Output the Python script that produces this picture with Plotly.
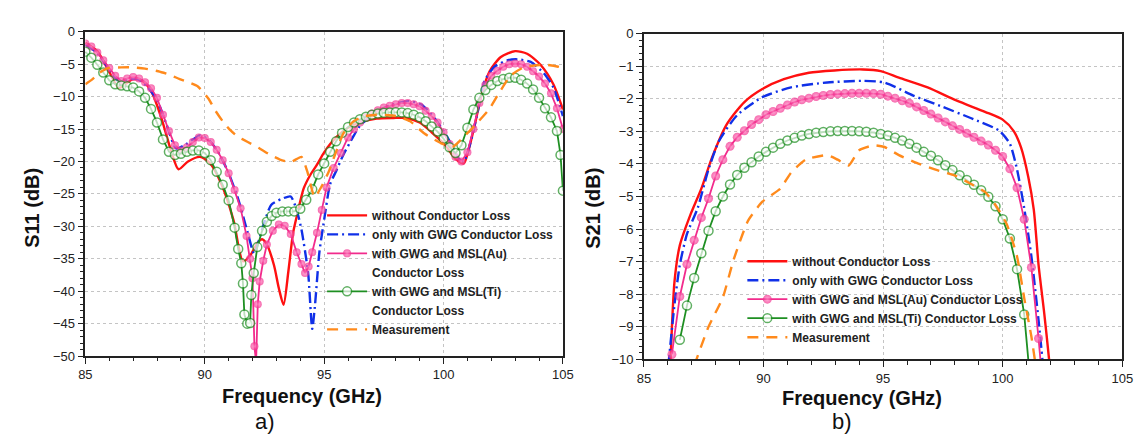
import plotly.graph_objects as go

W, H = 1142, 434

# ---------------- S11 data (left panel) ----------------
s11_red_f = [85.0, 85.5, 86.0, 86.4, 86.7, 87.0, 87.4, 87.8, 88.2, 88.6, 88.9, 89.3, 89.8, 90.2, 90.7,
             91.2, 91.6, 91.9, 92.2, 92.4, 92.6, 92.9, 93.1, 93.3, 93.5, 93.7, 93.87, 94.14, 94.4, 94.7,
             95.0, 95.5, 96.0, 96.5, 97.2, 97.9, 98.4, 99.0, 99.5, 100.07, 100.5, 100.85, 101.03, 101.3,
             101.6, 101.93, 102.4, 103.0, 103.5, 104.06, 104.6, 105.0]
s11_red_v = [-1.7, -3.0, -6.2, -8.7, -8.0, -7.3, -7.6, -9.5, -13.5, -18.5, -21.2, -20.0, -19.3, -20.2, -23.5,
             -29.0, -35.4, -34.5, -32.6, -32.0, -32.8, -36.0, -39.5, -42.1, -37.0, -31.0, -28.2, -24.2, -22.2, -20.5,
             -18.6, -16.3, -14.8, -14.0, -13.4, -13.3, -13.3, -14.0, -15.5, -17.5, -19.6, -20.3, -18.5, -14.5,
             -9.6, -6.1, -3.9, -3.0, -3.4, -5.1, -8.1, -12.0]

s11_blue_f = [85.0, 85.5, 86.0, 86.4, 86.8, 87.2, 87.6, 88.0, 88.4, 88.8, 89.2, 89.8, 90.2, 90.6, 91.0,
              91.4, 91.8, 92.07, 92.4, 92.78, 93.2, 93.6, 93.85, 94.05, 94.33, 94.5, 94.62, 94.8, 95.0,
              95.25, 95.5, 95.8, 96.2, 96.5, 97.2, 97.9, 98.55, 99.1, 99.66, 100.2, 100.62, 100.85, 101.17,
              101.45, 101.72, 102.13, 102.69, 103.1, 103.65, 104.2, 104.6, 105.0]
s11_blue_v = [-2.0, -3.3, -5.8, -7.7, -7.3, -7.3, -8.5, -10.5, -14.3, -18.0, -17.4, -16.0, -16.8, -18.8, -21.8,
              -25.8, -31.0, -34.2, -30.5, -26.7, -25.8, -25.4, -27.5, -30.5, -37.2, -45.8, -42.0, -34.0, -29.0,
              -23.5, -21.5, -19.0, -16.3, -14.5, -12.3, -11.2, -10.7, -11.3, -13.5, -16.5, -19.5, -20.0, -16.5,
              -12.0, -7.6, -5.4, -4.4, -4.26, -4.65, -6.4, -8.6, -13.0]

s11_au_f = [85.0, 85.25, 85.5, 85.75, 86.0, 86.25, 86.5, 86.75, 87.0, 87.25, 87.5, 87.75, 88.0, 88.25,
            88.5, 88.75, 89.0, 89.25, 89.5, 89.75, 90.0, 90.25, 90.5, 90.75, 91.0, 91.25, 91.5, 91.75,
            91.9, 92.0, 92.08, 92.15, 92.22, 92.3, 92.45, 92.6, 92.85, 93.1, 93.35, 93.6, 93.85, 94.05,
            94.2, 94.35, 94.5, 94.7, 94.9, 95.1, 95.4, 95.7,
            96.0, 96.25, 96.5, 96.75, 97.0, 97.25, 97.5, 97.75, 98.0, 98.25, 98.5, 98.75, 99.0, 99.25,
            99.5, 99.75, 100.0, 100.25, 100.5, 100.75, 101.0, 101.25, 101.5, 101.75, 102.0, 102.25, 102.5,
            102.75, 103.0, 103.25, 103.5, 103.75, 104.0, 104.25, 104.5, 104.75, 105.0]
s11_au_v = [-1.8, -2.3, -3.2, -4.4, -5.6, -6.8, -7.6, -7.2, -7.0, -7.2, -7.8, -8.7, -10.2, -12.8,
            -15.3, -17.5, -18.3, -17.8, -17.0, -16.3, -16.4, -17.0, -18.2, -19.8, -21.8, -24.4, -27.2, -31.5,
            -35.0, -38.0, -48.5, -51.0, -42.0, -38.5, -35.3, -32.8, -30.7, -29.7, -29.9, -31.2, -34.0, -35.8,
            -37.2, -36.2, -34.0, -31.0, -27.5, -24.0, -21.0, -18.7,
            -16.3, -15.0, -14.0, -13.2, -12.6, -12.1, -11.7, -11.4, -11.2, -11.0, -11.0, -11.2, -11.5, -12.2,
            -13.0, -14.0, -15.5, -17.3, -19.3, -20.0, -18.6, -15.0, -11.0, -8.2, -6.8, -6.0, -5.4,
            -5.0, -4.9, -5.0, -5.4, -6.1, -6.9, -8.0, -9.5, -11.8, -15.0]

s11_ti_f = [85.0, 85.25, 85.5, 85.75, 86.0, 86.25, 86.5, 86.75, 87.0, 87.25, 87.5, 87.75, 88.0, 88.25,
            88.5, 88.75, 89.0, 89.25, 89.5, 89.75, 90.0, 90.25, 90.5, 90.75, 91.0, 91.25,
            91.4, 91.53, 91.6, 91.66, 91.78, 91.9, 91.95, 92.05, 92.2, 92.4, 92.6, 92.8, 93.0,
            93.25, 93.5, 93.75, 94.0, 94.25, 94.5, 94.75, 95.0, 95.25, 95.5, 95.75, 96.0, 96.25, 96.5,
            96.75, 97.0, 97.25, 97.5, 97.75, 98.0, 98.25, 98.5, 98.75, 99.0, 99.25, 99.5, 99.75, 100.0,
            100.25, 100.5, 100.75, 101.0, 101.25, 101.5, 101.75, 102.0, 102.25, 102.5, 102.75, 103.0,
            103.25, 103.5, 103.75, 104.0, 104.25, 104.5, 104.75, 104.9, 105.0]
s11_ti_v = [-3.1, -4.0, -5.1, -6.3, -7.5, -8.1, -8.3, -8.4, -8.6, -9.2, -10.2, -11.9, -14.0, -16.6,
            -18.5, -19.0, -18.8, -18.5, -18.3, -18.3, -18.7, -19.8, -21.6, -23.6, -26.0, -30.2,
            -33.5, -35.7, -38.8, -43.6, -45.0, -44.9, -40.6, -37.2, -33.2, -30.7, -29.3, -28.4, -27.9,
            -27.7, -27.7, -27.7, -27.3, -25.9, -24.3, -22.0, -20.3, -18.5, -16.9, -15.6, -14.7, -14.0, -13.5,
            -13.1, -12.8, -12.6, -12.5, -12.45, -12.4, -12.45, -12.55, -12.8, -13.2, -13.8, -14.6, -15.4, -16.5,
            -17.8, -18.7, -17.5, -14.8, -12.0, -10.2, -9.0, -8.2, -7.6, -7.3, -7.1, -7.1,
            -7.4, -8.0, -8.9, -10.2, -11.8, -13.2, -15.3, -19.0, -24.5]

s11_meas_f = [85.0, 85.3, 85.6, 85.95, 86.5, 87.0, 87.5, 88.05, 88.5, 88.95, 89.4, 89.7, 90.15, 90.45,
              90.75, 91.05, 91.35, 91.8, 92.25, 92.7, 93.15, 93.6, 94.05, 94.3, 94.6, 94.9, 95.2, 95.5,
              95.8, 96.2, 96.6, 97.2, 98.0, 98.6, 99.2, 99.9, 100.4, 100.9, 101.3, 101.9, 102.3, 102.8,
              103.3, 103.8, 104.3, 104.8, 105.0]
s11_meas_v = [-8.1, -7.3, -6.3, -5.6, -5.5, -5.5, -5.7, -6.1, -6.6, -7.3, -7.9, -8.4, -10.3, -12.2,
              -13.8, -15.1, -16.1, -17.0, -17.9, -18.9, -19.7, -20.1, -19.3, -21.6, -25.5, -23.8, -21.5, -18.5,
              -15.7, -13.9, -13.1, -12.8, -13.0, -13.8, -15.7, -17.2, -17.7, -16.0, -14.5, -12.0, -9.6, -6.8,
              -5.6, -5.2, -5.1, -5.4, -5.6]

# ---------------- S21 data (right panel) ----------------
s21_red_f = [86.1, 86.28, 86.5, 86.95, 87.4, 87.85, 88.45, 89.2, 89.95, 90.85, 91.9, 92.96, 94.16, 94.9,
             95.66, 96.86, 98.06, 99.26, 100.0, 100.47, 100.77, 101.07, 101.3, 101.5, 101.74, 101.94, 102.0]
s21_red_v = [-10.3, -7.6, -6.5, -5.55, -4.76, -3.8, -2.8, -2.1, -1.7, -1.4, -1.2, -1.13, -1.1, -1.15,
             -1.35, -1.65, -2.05, -2.4, -2.64, -3.0, -3.5, -4.4, -5.4, -7.1, -8.6, -10.0, -10.5]

s21_blue_f = [86.02, 86.28, 86.5, 86.8, 87.25, 87.7, 88.15, 88.9, 89.95, 91.15, 92.66, 94.16, 95.06, 96.26,
              97.46, 98.66, 99.86, 100.3, 100.6, 100.9, 101.2, 101.5, 101.66, 101.72]
s21_blue_v = [-10.2, -8.3, -7.1, -6.15, -5.35, -4.17, -3.28, -2.5, -1.95, -1.65, -1.5, -1.45, -1.5, -1.9,
              -2.24, -2.59, -2.98, -3.38, -4.17, -5.36, -6.84, -8.8, -10.0, -10.5]

s21_au_f = [86.17, 86.5, 86.8, 87.1, 87.4, 87.7, 88.0, 88.3, 88.6, 88.9, 89.2, 89.5, 89.8, 90.1, 90.4,
            90.7, 91.0, 91.3, 91.6, 91.9, 92.2, 92.5, 92.8, 93.1, 93.4, 93.7, 94.0, 94.3, 94.6, 94.9,
            95.2, 95.5, 95.8, 96.1, 96.4, 96.7, 97.0, 97.3, 97.6, 97.9, 98.2, 98.5, 98.8, 99.1, 99.4,
            99.7, 100.0, 100.3, 100.6, 100.9, 101.2, 101.5, 101.6]
s21_au_v = [-9.85, -8.07, -7.08, -6.34, -5.65, -5.06, -4.37, -3.87, -3.46, -3.18, -2.98, -2.79, -2.64, -2.49, -2.39,
            -2.29, -2.19, -2.1, -2.03, -1.98, -1.93, -1.9, -1.87, -1.85, -1.84, -1.83, -1.83, -1.83, -1.84, -1.86,
            -1.92, -1.98, -2.06, -2.14, -2.25, -2.36, -2.47, -2.59, -2.71, -2.83, -2.94, -3.06, -3.18, -3.3, -3.42,
            -3.58, -3.77, -4.15, -4.73, -5.7, -7.18, -9.36, -10.2]

s21_ti_f = [86.5, 86.8, 87.1, 87.4, 87.7, 88.0, 88.3, 88.6, 88.9, 89.2, 89.5, 89.8, 90.1, 90.4, 90.7,
            91.0, 91.3, 91.6, 91.9, 92.2, 92.5, 92.8, 93.1, 93.4, 93.7, 94.0, 94.3, 94.6, 94.9, 95.2,
            95.5, 95.8, 96.1, 96.4, 96.7, 97.0, 97.3, 97.6, 97.9, 98.2, 98.5, 98.8, 99.1, 99.4, 99.7,
            100.0, 100.3, 100.6, 100.9, 101.07]
s21_ti_v = [-9.4, -8.35, -7.5, -6.74, -6.05, -5.45, -5.0, -4.63, -4.34, -4.12, -3.95, -3.77, -3.63, -3.5, -3.38,
            -3.28, -3.2, -3.13, -3.08, -3.04, -3.02, -3.0, -2.99, -2.99, -2.99, -3.0, -3.01, -3.04, -3.08, -3.13,
            -3.2, -3.28, -3.38, -3.5, -3.63, -3.75, -3.89, -4.04, -4.19, -4.35, -4.49, -4.64, -4.81, -5.01, -5.3,
            -5.7, -6.29, -7.23, -8.62, -10.0]

s21_meas_f = [87.1, 87.7, 88.3, 88.75, 89.35, 89.95, 90.7, 91.15, 91.76, 92.66, 93.1, 93.56, 94.0, 94.6,
              95.06, 95.66, 96.4, 97.16, 98.06, 98.66, 99.26, 99.7, 100.17, 100.6, 100.9, 101.2, 101.4]
s21_meas_v = [-10.2, -9.0, -8.1, -6.94, -5.75, -5.16, -4.76, -4.27, -3.87, -3.73, -3.87, -4.05, -3.58, -3.43,
              -3.48, -3.73, -3.97, -4.17, -4.37, -4.61, -4.86, -5.26, -5.85, -6.84, -8.12, -9.3, -10.3]

names = ["without Conductor Loss", "only with GWG Conductor Loss",
         "with GWG and MSL(Au)", "with GWG and MSL(Ti)", "Measurement"]
names_b = ["without Conductor Loss", "only with GWG Conductor Loss",
           "with GWG and MSL(Au) Conductor Loss", "with GWG and MSL(Ti) Conductor Loss", "Measurement"]

x_ticks = [85, 90, 95, 100, 105]
s11_ticks = [0, -5, -10, -15, -20, -25, -30, -35, -40, -45, -50]
s21_ticks = [0, -1, -2, -3, -4, -5, -6, -7, -8, -9, -10]

for a, b in [(s11_red_f, s11_red_v), (s11_blue_f, s11_blue_v), (s11_au_f, s11_au_v), (s11_ti_f, s11_ti_v),
             (s11_meas_f, s11_meas_v), (s21_red_f, s21_red_v), (s21_blue_f, s21_blue_v), (s21_au_f, s21_au_v),
             (s21_ti_f, s21_ti_v), (s21_meas_f, s21_meas_v)]:
    assert len(a) == len(b), (len(a), len(b))

RED = "#ff1010"
BLUE = "#1030e8"
PINK = "#f22b8c"
GREEN = "#1e8f22"
ORANGE = "#ff8a1c"
FONT = "Arial, 'Liberation Sans', sans-serif"

fig = go.Figure()


def add_panel(xa, ya, leg, f_r, v_r, f_b, v_b, f_au, v_au, f_ti, v_ti, f_m, v_m, two_line, msize, hide_last):
    fig.add_trace(go.Scatter(x=f_r, y=v_r, mode="lines", name=names[0], legend=leg, xaxis=xa, yaxis=ya,
                             line=dict(color=RED, width=2.4, shape="spline", smoothing=0.7)))
    fig.add_trace(go.Scatter(x=f_b, y=v_b, mode="lines", name=names[1], legend=leg, xaxis=xa, yaxis=ya,
                             line=dict(color=BLUE, width=2.4, dash="11px,4px,2px,4px", shape="spline",
                                       smoothing=0.6)))
    au_sizes = [msize[0]] * len(f_au)
    ti_sizes = [msize[1]] * len(f_ti)
    if hide_last:
        au_sizes[-1] = 0
        ti_sizes[-1] = 0
    fig.add_trace(go.Scatter(x=f_au, y=v_au, mode="lines+markers",
                             name=names[2] if two_line else names_b[2], legend=leg, xaxis=xa, yaxis=ya,
                             line=dict(color=PINK, width=1.8),
                             marker=dict(symbol="circle", size=au_sizes, color=PINK, line=dict(width=0),
                                         gradient=dict(type="radial", color="#ff8cc6"))))
    if two_line:
        fig.add_trace(go.Scatter(x=[None], y=[None], mode="lines", name="Conductor Loss", legend=leg,
                                 xaxis=xa, yaxis=ya, line=dict(color="rgba(0,0,0,0)", width=0)))
    fig.add_trace(go.Scatter(x=f_ti, y=v_ti, mode="lines+markers",
                             name=names[3] if two_line else names_b[3], legend=leg, xaxis=xa, yaxis=ya,
                             line=dict(color=GREEN, width=1.8),
                             marker=dict(symbol="circle", size=ti_sizes, color="white",
                                         line=dict(color=GREEN, width=1.5))))
    if two_line:
        fig.add_trace(go.Scatter(x=[None], y=[None], mode="lines", name="Conductor Loss", legend=leg,
                                 xaxis=xa, yaxis=ya, line=dict(color="rgba(0,0,0,0)", width=0)))
    fig.add_trace(go.Scatter(x=f_m, y=v_m, mode="lines", name=names[4], legend=leg, xaxis=xa, yaxis=ya,
                             line=dict(color=ORANGE, width=2.4, dash="11px,8px", shape="spline", smoothing=0.5)))


add_panel("x", "y", "legend", s11_red_f, s11_red_v, s11_blue_f, s11_blue_v, s11_au_f, s11_au_v,
          s11_ti_f, s11_ti_v, s11_meas_f, s11_meas_v, True, (8, 9), False)
add_panel("x2", "y2", "legend2", s21_red_f, s21_red_v, s21_blue_f, s21_blue_v, s21_au_f, s21_au_v,
          s21_ti_f, s21_ti_v, s21_meas_f, s21_meas_v, False, (9, 9), True)

axis_common = dict(showline=True, linecolor="#222", linewidth=1.6, mirror=True,
                   ticks="outside", ticklen=6, tickwidth=1.3, tickcolor="#222",
                   showgrid=True, gridcolor="#c4c4c4", gridwidth=1, griddash="dot",
                   zeroline=False, tickfont=dict(family=FONT, size=13, color="#222"))


def xax(domain, anchor):
    return dict(axis_common, domain=domain, anchor=anchor, range=[85, 105], tickmode="array",
                tickvals=x_ticks,
                minor=dict(dtick=1, tick0=85, ticks="outside", ticklen=3.5, tickwidth=1.2,
                           tickcolor="#222", showgrid=False))


fig.update_layout(
    width=W, height=H, autosize=False,
    margin=dict(l=0, r=0, t=0, b=0),
    paper_bgcolor="white", plot_bgcolor="white",
    xaxis=xax([71.5 / W, 556.7 / W], "y"),
    yaxis=dict(axis_common, domain=[(H - 353.3) / H, (H - 17.3) / H], anchor="x", range=[-50, 0],
               tickmode="array", tickvals=s11_ticks,
               minor=dict(dtick=1, tick0=0, ticks="outside", ticklen=3.5, tickwidth=1.2,
                          tickcolor="#222", showgrid=False)),
    xaxis2=xax([639 / W, 1125 / W], "y2"),
    yaxis2=dict(axis_common, domain=[(H - 356.7) / H, (H - 19.3) / H], anchor="x2", range=[-10, 0],
                tickmode="array", tickvals=s21_ticks,
                minor=dict(dtick=0.2, tick0=0, ticks="outside", ticklen=3.5, tickwidth=1.2,
                           tickcolor="#222", showgrid=False)),
    legend=dict(x=312 / W, y=(H - 192.5) / H, xanchor="left", yanchor="top",
                bgcolor="rgba(0,0,0,0)", borderwidth=0, itemwidth=40,
                font=dict(family=FONT, size=12, color="#222", weight="bold")),
    legend2=dict(x=739 / W, y=(H - 240) / H, xanchor="left", yanchor="top",
                 bgcolor="rgba(0,0,0,0)", borderwidth=0, itemwidth=40,
                 font=dict(family=FONT, size=12, color="#222", weight="bold")),
    showlegend=True,
)

ann_font_b = dict(family=FONT, size=20, color="#111", weight="bold")
common_ann = dict(xref="paper", yref="paper", showarrow=False, xanchor="center", yanchor="middle",
                  borderpad=0)
fig.add_annotation(text="S11 (dB)", x=17 / W, y=(H - 200) / H, textangle=-90, font=ann_font_b, **common_ann)
fig.add_annotation(text="S21 (dB)", x=587 / W, y=(H - 200) / H, textangle=-90, font=ann_font_b, **common_ann)
fig.add_annotation(text="Frequency (GHz)", x=291.7 / W, y=(H - 394.5) / H, font=ann_font_b, **common_ann)
fig.add_annotation(text="Frequency (GHz)", x=861 / W, y=(H - 396.5) / H, font=ann_font_b, **common_ann)
fig.add_annotation(text="a)", x=254 / W, y=(H - 421.5) / H, font=dict(family=FONT, size=22, color="#111"),
                   **common_ann)
fig.add_annotation(text="b)", x=840 / W, y=(H - 421.5) / H, font=dict(family=FONT, size=22, color="#111"),
                   **common_ann)

fig.write_html("out.html")
